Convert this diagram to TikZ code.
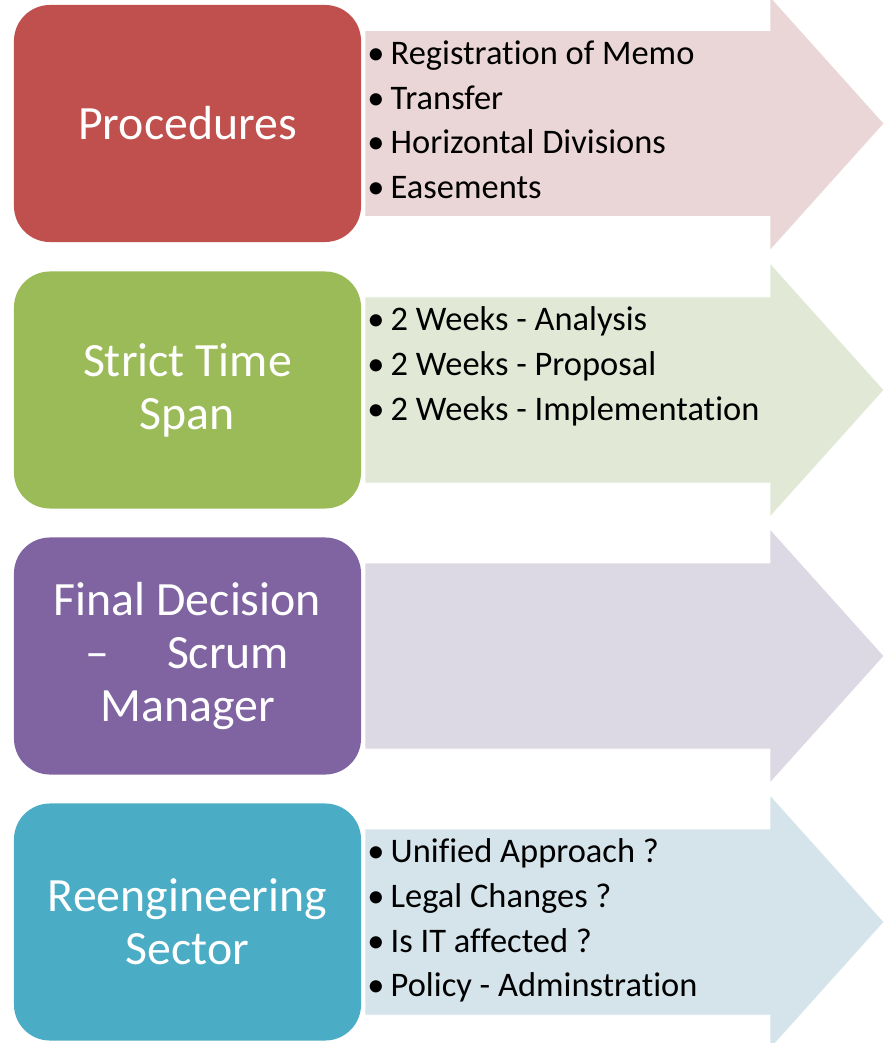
\documentclass[tikz,border=0pt]{standalone}
\usepackage{fontspec}
\setmainfont[RawFeature={-liga;-clig;-dlig}]{Carlito}
\usetikzlibrary{positioning}

\definecolor{procred}{RGB}{192,80,77}
\definecolor{spangreen}{RGB}{155,187,89}
\definecolor{decpurple}{RGB}{128,100,162}
\definecolor{sectteal}{RGB}{75,172,198}
\definecolor{procpink}{RGB}{234,214,214}
\definecolor{spanpale}{RGB}{225,233,214}
\definecolor{decpale}{RGB}{220,216,228}
\definecolor{sectpale}{RGB}{212,228,234}

\newcommand{\bitem}[1]{\makebox[0.68em][l]{\textbullet}#1\strut}

\begin{document}
\begin{tikzpicture}[x=0.025cm, y=-0.025cm,
  headbox/.style={fill=#1, rounded corners=0.9cm, minimum width=8.675cm, minimum height=5.925cm,
    text=white, align=center, font=\fontsize{34}{37.7}\selectfont},
  pointarrow/.style={fill=#1, draw=white, line width=0.5pt},
  bullets/.style={anchor=north west, inner sep=0pt, align=left, font=\fontsize{24.5}{31.7}\selectfont}]
\useasboundingbox (0,0) rectangle (884,1043);
\clip (0,0) rectangle (884,1043);

% arrows behind the lists
\filldraw[pointarrow=procpink] (365,30.5) -- (770,30.5) -- (770,-3.5) -- (884,123.5) -- (770,250.5) -- (770,216.5) -- (365,216.5) -- cycle;
\filldraw[pointarrow=spanpale] (365,297) -- (770,297) -- (770,263) -- (884,390) -- (770,517) -- (770,483) -- (365,483) -- cycle;
\filldraw[pointarrow=decpale] (365,563) -- (770,563) -- (770,529) -- (884,656) -- (770,783) -- (770,749) -- (365,749) -- cycle;
\filldraw[pointarrow=sectpale] (365,829) -- (770,829) -- (770,795) -- (884,922) -- (770,1049) -- (770,1015) -- (365,1015) -- cycle;

% headings
\node[headbox=procred] (procedures) at (187.5,123.5) {Procedures};
\node[headbox=spangreen] (timespan) at (187.5,390) {Strict Time\\Span};
\node[headbox=decpurple] (decision) at (187.5,656) {Final Decision\\--\hspace{1.2em}Scrum\\Manager};
\node[headbox=sectteal] (sector) at (187.5,922) {Reengineering\\Sector};

% lists
\node[bullets] (procitems) at (367,33) {\bitem{Registration of Memo}\\\bitem{Transfer}\\\bitem{Horizontal Divisions}\\\bitem{Easements}};
\node[bullets] (spanitems) at (367,299.5) {\bitem{2 Weeks - Analysis}\\\bitem{2 Weeks - Proposal}\\\bitem{2 Weeks - Implementation}};
\node[bullets] (sectitems) at (367,831.5) {\bitem{Unified Approach ?}\\\bitem{Legal Changes ?}\\\bitem{Is IT affected ?}\\\bitem{Policy - Adminstration}};
\end{tikzpicture}
\end{document}
